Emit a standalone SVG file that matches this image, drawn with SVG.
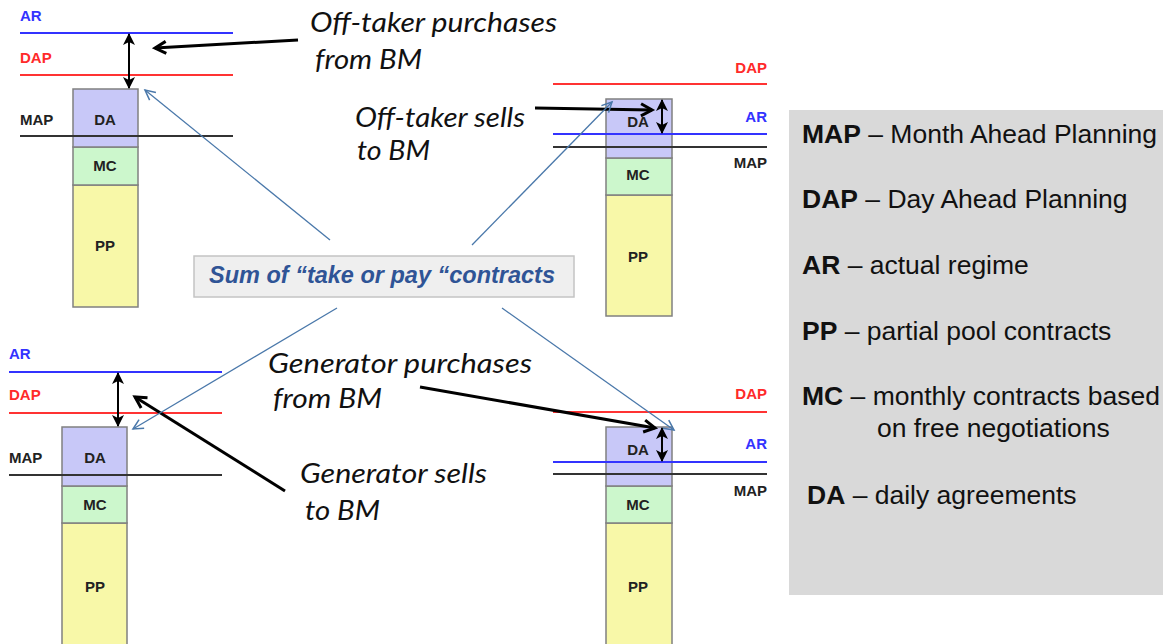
<svg xmlns="http://www.w3.org/2000/svg" width="1163" height="644" viewBox="0 0 1163 644">
<style>
.lbl{font-family:"Liberation Sans",Arial,sans-serif;font-weight:bold;font-size:15px}
.ar{fill:#3333ff}.dap{fill:#ff2a2a}.map{fill:#222}
.seg{font-family:"Liberation Sans",Arial,sans-serif;font-weight:bold;font-size:15px;fill:#222;text-anchor:middle}
.lAR{stroke:#3333ff;stroke-width:2}.lDAP{stroke:#ff3333;stroke-width:2}.lMAP{stroke:#333;stroke-width:2}
.da{fill:#c8c8f8;stroke:#808080;stroke-width:1.5}
.mc{fill:#ccf7cc;stroke:#808080;stroke-width:1.5}
.pp{fill:#f8f8a8;stroke:#808080;stroke-width:1.5}
.cap{font-family:Lato,"Open Sans",sans-serif;font-style:italic;font-size:27px;fill:#111}
.leg{font-family:"Liberation Sans",Arial,sans-serif;font-size:26.5px;fill:#111}
.b{font-weight:bold}
.blk{stroke:#000;stroke-width:3;fill:none;marker-end:url(#mb)}
.blu{stroke:#4a78aa;stroke-width:1.3;fill:none;marker-end:url(#mu)}
.dbl{stroke:#000;stroke-width:2;marker-start:url(#md);marker-end:url(#md)}
</style>
<defs>
<marker id="mb" markerUnits="userSpaceOnUse" markerWidth="16" markerHeight="16" refX="12" refY="7" orient="auto" viewBox="0 0 16 14"><path d="M1,1 L12,7 L1,13" fill="none" stroke="#000" stroke-width="3"/></marker>
<marker id="mu" markerUnits="userSpaceOnUse" markerWidth="14" markerHeight="14" refX="11" refY="6" orient="auto" viewBox="0 0 14 12"><path d="M1,1 L11,6 L1,11" fill="none" stroke="#4a78aa" stroke-width="1.5"/></marker>
<marker id="md" markerUnits="userSpaceOnUse" markerWidth="12" markerHeight="12" refX="11" refY="6" orient="auto-start-reverse" viewBox="0 0 12 12"><path d="M0,0 L12,6 L0,12 L3,6 Z" fill="#000"/></marker>
</defs>

<g id="legend">
<rect x="789" y="110" width="380" height="485" fill="#d9d9d9"/>
<text class="leg" x="802" y="143"><tspan class="b">MAP</tspan> – Month Ahead Planning</text>
<text class="leg" x="802" y="208"><tspan class="b">DAP</tspan> – Day Ahead Planning</text>
<text class="leg" x="802" y="274"><tspan class="b">AR</tspan> – actual regime</text>
<text class="leg" x="802" y="340"><tspan class="b">PP</tspan> – partial pool contracts</text>
<text class="leg" x="802" y="405"><tspan class="b">MC</tspan> – monthly contracts based</text>
<text class="leg" x="877" y="437">on free negotiations</text>
<text class="leg" x="807" y="504"><tspan class="b">DA</tspan> – daily agreements</text>
</g>

<g id="panel-top-left">
<rect class="pp" x="73" y="185" width="65" height="122"/>
<rect class="mc" x="73" y="147" width="65" height="38"/>
<rect class="da" x="73" y="89" width="65" height="58"/>
<line class="lAR" x1="20" y1="33" x2="233" y2="33"/>
<line class="lDAP" x1="20" y1="75" x2="233" y2="75"/>
<line class="lMAP" x1="20" y1="136" x2="233" y2="136"/>
<text class="lbl ar" x="20" y="21">AR</text>
<text class="lbl dap" x="20" y="63">DAP</text>
<text class="lbl map" x="20" y="125">MAP</text>
<text class="seg" x="105" y="125">DA</text>
<text class="seg" x="105" y="171">MC</text>
<text class="seg" x="105" y="251">PP</text>
</g>

<g id="panel-top-right">
<rect class="pp" x="606" y="195" width="66" height="121"/>
<rect class="mc" x="606" y="158" width="66" height="37"/>
<rect class="da" x="606" y="99" width="66" height="59"/>
<line class="lDAP" x1="553" y1="84" x2="767" y2="84"/>
<line class="lAR" x1="553" y1="134" x2="767" y2="134"/>
<line class="lMAP" x1="553" y1="147" x2="767" y2="147"/>
<text class="lbl dap" x="767" y="73" text-anchor="end">DAP</text>
<text class="lbl ar" x="767" y="122" text-anchor="end">AR</text>
<text class="lbl map" x="767" y="168" text-anchor="end">MAP</text>
<text class="seg" x="638" y="127">DA</text>
<text class="seg" x="638" y="180">MC</text>
<text class="seg" x="638" y="262">PP</text>
</g>

<g id="panel-bottom-left">
<rect class="pp" x="62" y="523" width="65" height="125"/>
<rect class="mc" x="62" y="486" width="65" height="37"/>
<rect class="da" x="62" y="427" width="65" height="59"/>
<line class="lAR" x1="9" y1="372" x2="222" y2="372"/>
<line class="lDAP" x1="9" y1="413" x2="222" y2="413"/>
<line class="lMAP" x1="9" y1="475" x2="222" y2="475"/>
<text class="lbl ar" x="9" y="359">AR</text>
<text class="lbl dap" x="9" y="400">DAP</text>
<text class="lbl map" x="9" y="463">MAP</text>
<text class="seg" x="95" y="463">DA</text>
<text class="seg" x="95" y="510">MC</text>
<text class="seg" x="95" y="592">PP</text>
</g>

<g id="panel-bottom-right">
<rect class="pp" x="606" y="523" width="66" height="125"/>
<rect class="mc" x="606" y="486" width="66" height="37"/>
<rect class="da" x="606" y="427" width="66" height="59"/>
<line class="lDAP" x1="553" y1="412" x2="767" y2="412"/>
<line class="lAR" x1="553" y1="462" x2="767" y2="462"/>
<line class="lMAP" x1="553" y1="474" x2="767" y2="474"/>
<text class="lbl dap" x="767" y="399" text-anchor="end">DAP</text>
<text class="lbl ar" x="767" y="449" text-anchor="end">AR</text>
<text class="lbl map" x="767" y="496" text-anchor="end">MAP</text>
<text class="seg" x="638" y="455">DA</text>
<text class="seg" x="638" y="510">MC</text>
<text class="seg" x="638" y="592">PP</text>
</g>

<g id="sum-box">
<rect x="194" y="256" width="380" height="41" fill="#efefef" stroke="#c4c4c4" stroke-width="1.5"/>
<text x="209" y="283" textLength="346" lengthAdjust="spacingAndGlyphs" font-family="Liberation Sans,Arial,sans-serif" font-weight="bold" font-style="italic" font-size="23" fill="#2f5496">Sum of “take or pay “contracts</text>
</g>

<g id="captions">
<text class="cap" x="310" y="32" textLength="247" lengthAdjust="spacingAndGlyphs">Off-taker purchases</text>
<text class="cap" x="315" y="69" textLength="107" lengthAdjust="spacingAndGlyphs">from BM</text>
<text class="cap" x="355" y="127" textLength="170" lengthAdjust="spacingAndGlyphs">Off-taker sells</text>
<text class="cap" x="357" y="160" textLength="73" lengthAdjust="spacingAndGlyphs">to BM</text>
<text class="cap" x="268" y="373" textLength="264" lengthAdjust="spacingAndGlyphs">Generator purchases</text>
<text class="cap" x="273" y="408" textLength="109" lengthAdjust="spacingAndGlyphs">from BM</text>
<text class="cap" x="300" y="483" textLength="187" lengthAdjust="spacingAndGlyphs">Generator sells</text>
<text class="cap" x="305" y="520" textLength="75" lengthAdjust="spacingAndGlyphs">to BM</text>
</g>

<g id="connectors">
<line class="dbl" x1="129" y1="34" x2="129" y2="88"/>
<line class="dbl" x1="662" y1="100" x2="662" y2="133"/>
<line class="dbl" x1="118" y1="373" x2="118" y2="426"/>
<line class="dbl" x1="662" y1="428" x2="662" y2="461"/>
<line class="blk" x1="298" y1="40" x2="155" y2="48"/>
<line class="blk" x1="535" y1="108" x2="652" y2="110"/>
<line class="blk" x1="420" y1="387" x2="655" y2="428"/>
<line class="blk" x1="285" y1="491" x2="135" y2="397"/>
<line class="blu" x1="330" y1="240" x2="145" y2="90"/>
<line class="blu" x1="472" y1="245" x2="612" y2="102"/>
<line class="blu" x1="337" y1="308" x2="133" y2="429"/>
<line class="blu" x1="502" y1="308" x2="674" y2="430"/>
</g>
</svg>
